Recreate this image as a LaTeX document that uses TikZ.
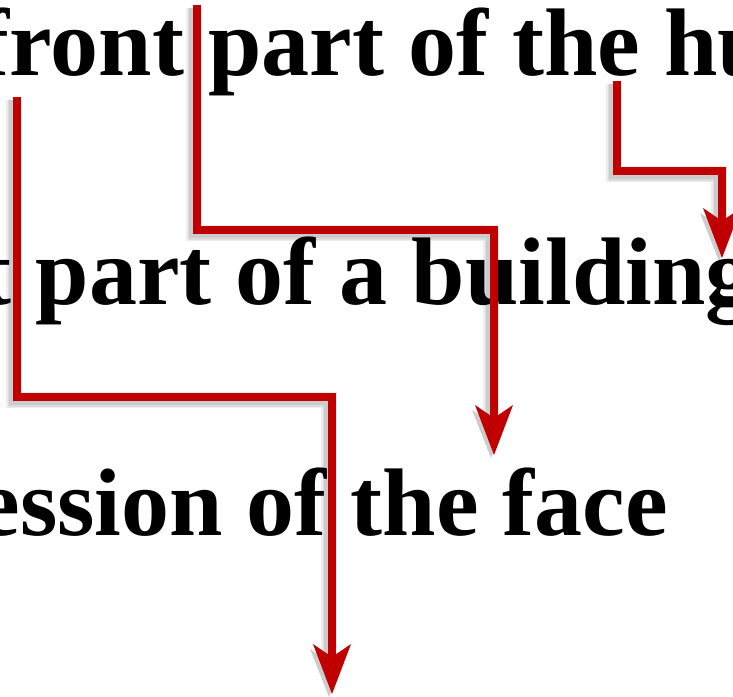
\documentclass[tikz,border=0pt]{standalone}
\usepackage{fontspec}
\setmainfont{Liberation Serif}
\usetikzlibrary{arrows.meta}
\definecolor{arrred}{HTML}{C00000}
\tikzset{
  txt/.style={inner sep=0pt, outer sep=0pt, font=\fontsize{96}{96}\selectfont\bfseries},
  shadowlayer/.style={preaction={draw=black, fill=none, opacity=0.07, line width=#1,
      -{Stealth[length=48pt, width=38pt, inset=13pt, line width=0pt]},
      transform canvas={xshift=-3pt, yshift=-3pt}}},
  redarrow/.style={draw=arrred, line width=8pt,
    -{Stealth[length=50pt, width=38pt, inset=13pt, line width=0pt]},
    shadowlayer=16pt, shadowlayer=13pt, shadowlayer=10pt}
}
\begin{document}
\begin{tikzpicture}[x=1pt, y=-1pt]
\useasboundingbox (0,0) rectangle (733,696);
\node[txt, anchor=base west] (l1) at (-22,75) {front part of the hu};
\node[txt, anchor=base west] (l2) at (-20,304) {t part of a building};
\node[txt, anchor=base east] (l3) at (668,535) {ession of the face};
% arrow endpoints
\coordinate (s1) at (17,97);
\coordinate (e1) at (332,694);
\coordinate (s2) at (197,5);
\coordinate (e2) at (494,455);
\coordinate (s3) at (617,81);
\coordinate (e3) at (722,258);
\draw[redarrow] (s1) -- (17,397) -| (e1);
\draw[redarrow] (s2) -- (197,230) -| (e2);
\draw[redarrow] (s3) -- (617,171) -| (e3);
\end{tikzpicture}
\end{document}
